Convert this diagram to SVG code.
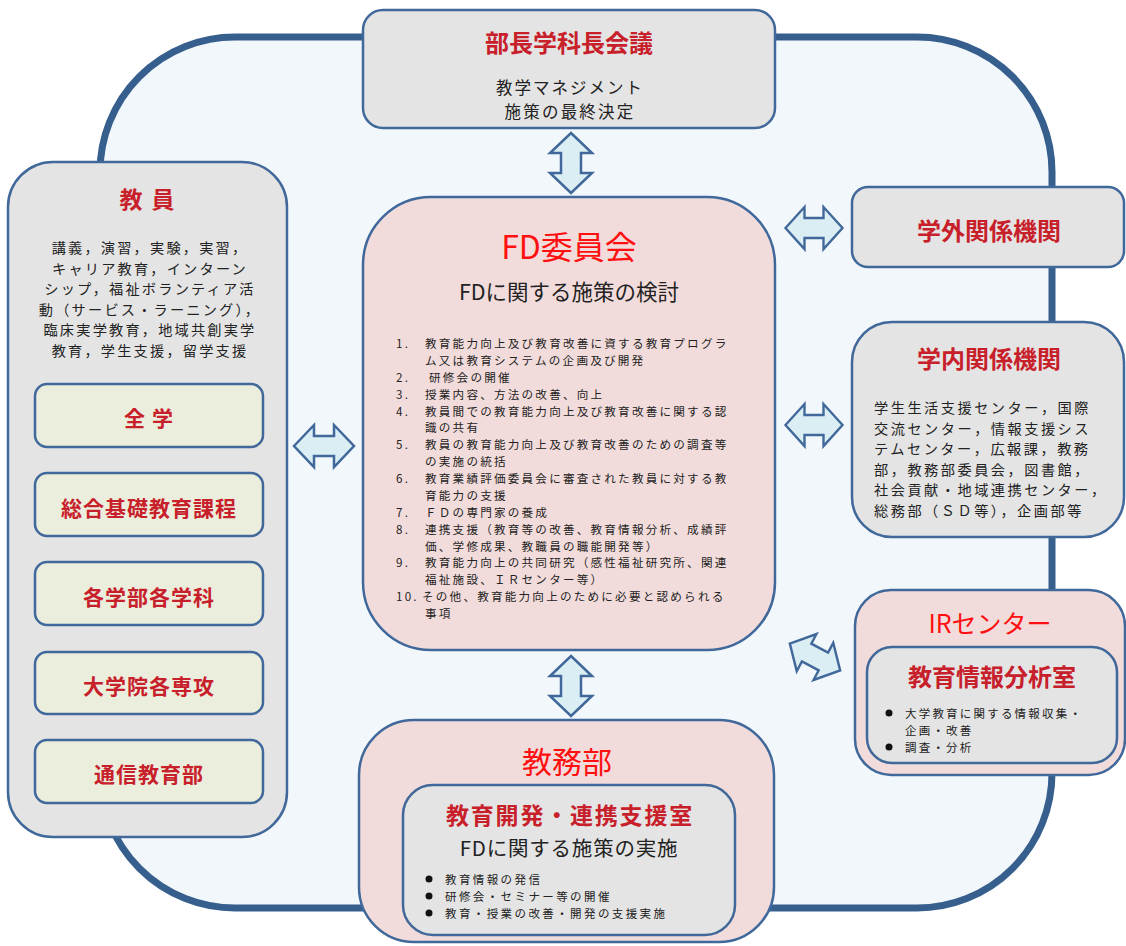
<svg xmlns="http://www.w3.org/2000/svg" width="1126" height="946" viewBox="0 0 1126 946">
<style>
text{font-family:"Noto Sans CJK JP","Noto Sans",sans-serif;dominant-baseline:central}
.box{stroke:#41689a;stroke-width:2.5}
.gray{fill:#e4e4e4}
.pink{fill:#f2dcdb}
.green{fill:#ebeedd}
.red{fill:#c8202a;font-weight:bold}
.bright{fill:#ff1010}
.c{text-anchor:middle}
.body{fill:#222}
.arrow{fill:#dbeef4;stroke:#41689a;stroke-width:2.5;stroke-linejoin:miter}
</style>
<defs>
<path id="dbl" d="M -30 0 L -10 -21 L -10 -10 L 10 -10 L 10 -21 L 30 0 L 10 21 L 10 10 L -10 10 L -10 21 Z"/>
</defs>
<rect x="0" y="0" width="1126" height="946" fill="#ffffff"/>
<g id="frame">
<rect x="100" y="37" width="952" height="871" rx="135" ry="135" fill="#f2f7fb" stroke="#375f8e" stroke-width="7"/>
</g>
<g id="connectors">
<use href="#dbl" class="arrow" transform="translate(571,163) rotate(90)"/>
<use href="#dbl" class="arrow" transform="translate(571,686) rotate(90)"/>
<use href="#dbl" class="arrow" transform="translate(324,446)"/>
<use href="#dbl" class="arrow" transform="translate(814,228) scale(0.95,1)"/>
<use href="#dbl" class="arrow" transform="translate(814,425) scale(0.95,1)"/>
<use href="#dbl" class="arrow" transform="translate(815,657) rotate(28) scale(0.95,1)"/>
</g>
<g id="bucho">
<rect class="box gray" x="363" y="10" width="412" height="118" rx="20"/>
<text class="red c" x="569" y="41" font-size="24" fill="#d42a2a">部長学科長会議</text>
<text class="body c" x="570" y="87" font-size="16.5" letter-spacing="2">教学マネジメント</text>
<text class="body c" x="570" y="111" font-size="16.5" letter-spacing="2.2">施策の最終決定</text>
</g>
<g id="fd">
<rect class="box pink" x="363" y="197" width="412" height="453" rx="68"/>
<text class="bright c" x="569" y="245" font-size="32">FD委員会</text>
<text class="body c" x="569" y="290" font-size="21.5">FDに関する施策の検討</text>
<g class="body" font-size="11.6" letter-spacing="2.2">
<text x="396" y="343">1.</text><text x="425" y="343">教育能力向上及び教育改善に資する教育プログラ</text>
<text x="425" y="359.9">ム又は教育システムの企画及び開発</text>
<text x="396" y="376.8">2.</text><text x="429" y="376.8">研修会の開催</text>
<text x="396" y="393.6">3.</text><text x="425" y="393.6">授業内容、方法の改善、向上</text>
<text x="396" y="410.5">4.</text><text x="425" y="410.5">教員間での教育能力向上及び教育改善に関する認</text>
<text x="425" y="427.4">識の共有</text>
<text x="396" y="444.3">5.</text><text x="425" y="444.3">教員の教育能力向上及び教育改善のための調査等</text>
<text x="425" y="461.1">の実施の統括</text>
<text x="396" y="478">6.</text><text x="425" y="478">教育業績評価委員会に審査された教員に対する教</text>
<text x="425" y="494.9">育能力の支援</text>
<text x="396" y="511.8">7.</text><text x="425" y="511.8">ＦＤの専門家の養成</text>
<text x="396" y="528.6">8.</text><text x="425" y="528.6">連携支援（教育等の改善、教育情報分析、成績評</text>
<text x="425" y="545.5">価、学修成果、教職員の職能開発等）</text>
<text x="396" y="562.4">9.</text><text x="425" y="562.4">教育能力向上の共同研究（感性福祉研究所、関連</text>
<text x="425" y="579.3">福祉施設、ＩＲセンター等）</text>
<text x="396" y="596.1">10.</text><text x="422" y="596.1">その他、教育能力向上のために必要と認められる</text>
<text x="425" y="613">事項</text>
</g>
</g>
<g id="kyoin">
<rect class="box gray" x="8" y="162" width="279" height="675" rx="45"/>
<text class="red c" x="148" y="198" font-size="23" letter-spacing="2">教 員</text>
<g class="body c" font-size="14.2" letter-spacing="2.2">
<text x="150" y="247">講義，演習，実験，実習，</text>
<text x="150" y="267.5">キャリア教育，インターン</text>
<text x="150" y="288">シップ，福祉ボランティア活</text>
<text x="150" y="308.5">動（サービス・ラーニング），</text>
<text x="150" y="329">臨床実学教育，地域共創実学</text>
<text x="150" y="349.5">教育，学生支援，留学支援</text>
</g>
</g>
<g id="zengaku">
<rect class="box green" x="35" y="384" width="228" height="63" rx="12"/>
<text class="red c" x="149" y="417" font-size="21" letter-spacing="1">全 学</text>
</g>
<g id="sogo">
<rect class="box green" x="35" y="473" width="228" height="63" rx="12"/>
<text class="red c" x="149" y="507" font-size="21" letter-spacing="1">総合基礎教育課程</text>
</g>
<g id="gakubu">
<rect class="box green" x="35" y="562" width="228" height="63" rx="12"/>
<text class="red c" x="149" y="596" font-size="21" letter-spacing="1">各学部各学科</text>
</g>
<g id="daigakuin">
<rect class="box green" x="35" y="652" width="228" height="62" rx="12"/>
<text class="red c" x="149" y="685" font-size="21" letter-spacing="1">大学院各専攻</text>
</g>
<g id="tsushin">
<rect class="box green" x="35" y="740" width="228" height="63" rx="12"/>
<text class="red c" x="149" y="773" font-size="21" letter-spacing="1">通信教育部</text>
</g>
<g id="gakugai">
<rect class="box gray" x="852" y="187" width="272" height="80" rx="16"/>
<text class="red c" x="989" y="229" font-size="24">学外関係機関</text>
</g>
<g id="gakunai">
<rect class="box gray" x="852" y="322" width="272" height="215" rx="40"/>
<text class="red c" x="989" y="357" font-size="24">学内関係機関</text>
<g class="body" font-size="14.2" letter-spacing="2.5">
<text x="874" y="407">学生生活支援センター，国際</text>
<text x="874" y="427.5">交流センター，情報支援シス</text>
<text x="874" y="448">テムセンター，広報課，教務</text>
<text x="874" y="468.5">部，教務部委員会，図書館，</text>
<text x="874" y="489">社会貢献・地域連携センター，</text>
<text x="874" y="509.5">総務部（ＳＤ等），企画部等</text>
</g>
</g>
<g id="ir">
<rect class="box pink" x="855" y="590" width="270" height="185" rx="36"/>
<text class="bright c" x="990" y="622" font-size="25">IRセンター</text>
<rect class="box gray" x="867" y="647" width="250" height="116" rx="25"/>
<text class="red c" x="992" y="675" font-size="24">教育情報分析室</text>
<g class="body" font-size="11.5" letter-spacing="2.2">
<circle cx="889" cy="713" r="3.5" fill="#111"/>
<text x="905" y="713">大学教育に関する情報収集・</text>
<text x="905" y="730">企画・改善</text>
<circle cx="889" cy="747" r="3.5" fill="#111"/>
<text x="905" y="747">調査・分析</text>
</g>
</g>
<g id="kyomubu">
<rect class="box pink" x="359" y="720" width="415" height="222" rx="55"/>
<text class="bright c" x="567" y="760" font-size="30">教務部</text>
<rect class="box gray" x="403" y="785" width="332" height="150" rx="30"/>
<text class="red c" x="570" y="814" font-size="23" letter-spacing="1.8">教育開発・連携支援室</text>
<text class="body c" x="569" y="847" font-size="20.5" letter-spacing="0.8">FDに関する施策の実施</text>
<g class="body" font-size="11.5" letter-spacing="2.4">
<circle cx="429" cy="879" r="3.5" fill="#111"/>
<text x="445" y="879">教育情報の発信</text>
<circle cx="429" cy="896" r="3.5" fill="#111"/>
<text x="445" y="896">研修会・セミナー等の開催</text>
<circle cx="429" cy="913" r="3.5" fill="#111"/>
<text x="445" y="913">教育・授業の改善・開発の支援実施</text>
</g>
</g>
</svg>
